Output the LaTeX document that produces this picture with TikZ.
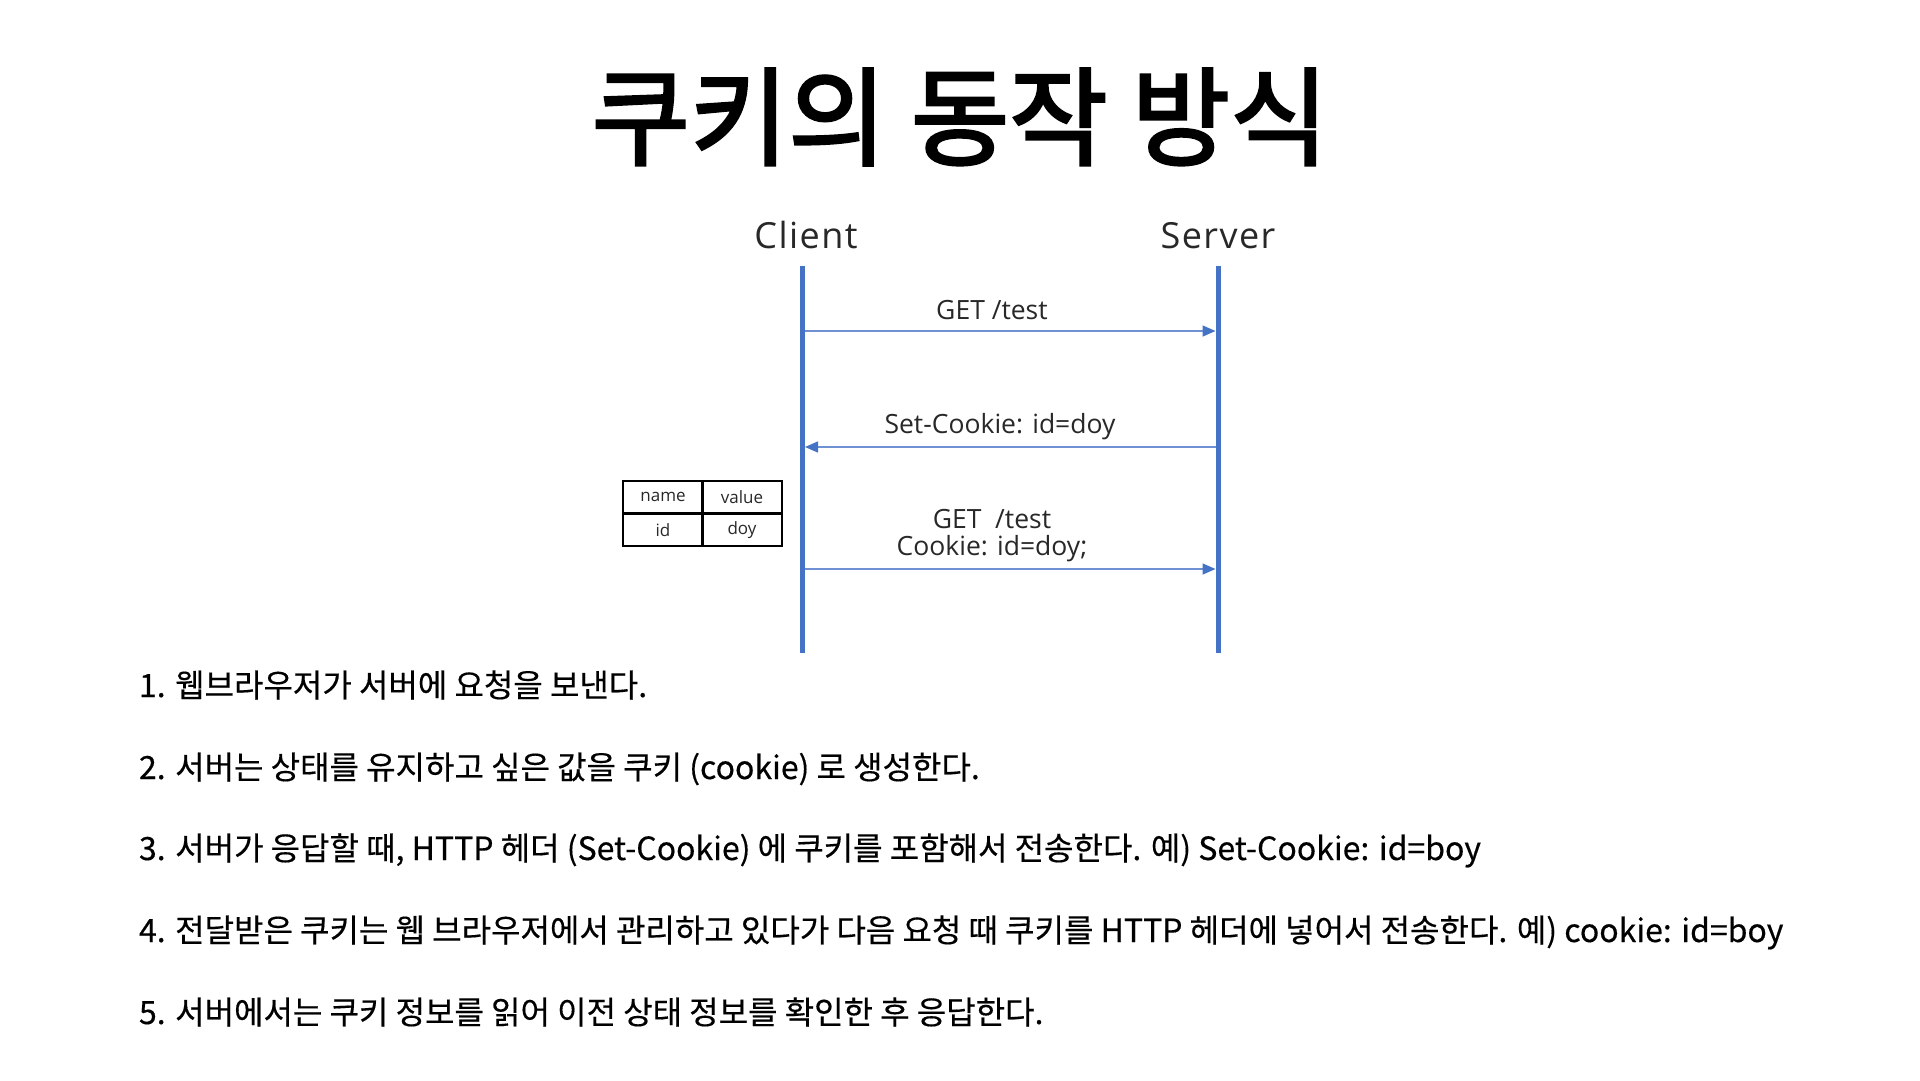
\documentclass[tikz,border=0pt]{standalone}
\usepackage{fontspec}
\usepackage{tikz}
\usetikzlibrary{arrows.meta, positioning}

\setmainfont{Noto Sans CJK KR}
\newfontfamily\krfont{Noto Sans CJK KR}[FakeBold=0.4]
\newfontfamily\titlefont{Noto Sans CJK KR}[FakeBold=2.5]
\newfontfamily\lblfont{Open Sans}

\definecolor{lifeblue}{RGB}{68,114,196}
\definecolor{msgblue}{RGB}{112,144,212}
\definecolor{lblgray}{RGB}{40,40,40}

\begin{document}
\begin{tikzpicture}[x=1pt, y=-1pt,
						every node/.style={inner sep=0pt, outer sep=0pt},
						lifeline/.style={draw=lifeblue, line width=5pt},
						msg/.style={draw=msgblue, line width=1.5pt, -{Triangle[length=13pt, width=11pt, color=lifeblue]}},
						actor/.style={font=\lblfont\fontsize{36}{42}\selectfont\addfontfeature{LetterSpace=4}, text=lblgray, anchor=base},
						msglabel/.style={font=\lblfont\fontsize{26.5}{27}\selectfont, text=lblgray, anchor=base, align=center},
						cell/.style={draw, line width=2pt, minimum width=79.5pt, minimum height=32.5pt, font=\lblfont\fontsize{17}{20}\selectfont, text=lblgray},
						steptext/.style={font=\krfont\fontsize{32}{36}\selectfont, anchor=base west}]
					\useasboundingbox (0,0) rectangle (1920,1080);

					\node[font=\titlefont\fontsize{107}{120}\selectfont, anchor=base] (title) at (960,157) {쿠키의 동작 방식};

					\node[actor] (client) at (806,248) {Client};
					\node[actor] (server) at (1218,248) {Server};

					\coordinate (cTop) at (802,266);
					\coordinate (cBot) at (802,653);
					\coordinate (sTop) at (1218,266);
					\coordinate (sBot) at (1218,653);
					\path (cTop) edge[lifeline] (cBot);
					\path (sTop) edge[lifeline] (sBot);

					\coordinate (c1) at (805,331);
					\coordinate (s1) at (1215.5,331);
					\coordinate (s2) at (1215.5,447);
					\coordinate (c2) at (805,447);
					\coordinate (c3) at (805,569);
					\coordinate (s3) at (1215.5,569);

					\path (c1) edge[msg] (s1);
					\path (s2) edge[msg] (c2);
					\path (c3) edge[msg] (s3);

					\node[msglabel] (getA) at (992,319) {GET /test};
					\node[msglabel] (setck) at (1000,433) {Set-Cookie: id=doy};
					\node[msglabel] (getB) at (992,528) {GET \ /test};
					\node[msglabel] (ckhdr) at (992,555) {Cookie: id=doy;};

					\node[cell] (name) at (663,497) {name};
					\node[cell] (value) at (742,497) {value};
					\node[cell] (id) at (663,530) {id};
					\node[cell] (doy) at (742,530) {doy};

					\node[steptext] (s1txt) at (139,697) {1. 웹브라우저가 서버에 요청을 보낸다.};
					\node[steptext] (s2txt) at (139,779) {2. 서버는 상태를 유지하고 싶은 값을 쿠키 (cookie) 로 생성한다.};
					\node[steptext] (s3txt) at (139,860) {3. 서버가 응답할 때, HTTP 헤더 (Set-Cookie) 에 쿠키를 포함해서 전송한다. 예) Set-Cookie: id=boy};
					\node[steptext] (s4txt) at (139,942) {4. 전달받은 쿠키는 웹 브라우저에서 관리하고 있다가 다음 요청 때 쿠키를 HTTP 헤더에 넣어서 전송한다. 예) cookie: id=boy};
					\node[steptext] (s5txt) at (139,1024) {5. 서버에서는 쿠키 정보를 읽어 이전 상태 정보를 확인한 후 응답한다.};
				\end{tikzpicture}
\end{document}
